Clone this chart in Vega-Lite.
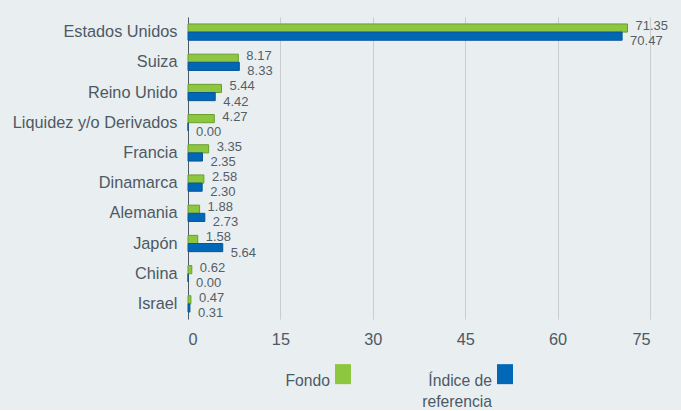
{
  "$schema": "https://vega.github.io/schema/vega-lite/v6.json",
  "width": 462,
  "height": 302,
  "padding": {"left": 12, "top": 17, "right": 20, "bottom": 0},
  "background": "#e9eef1",
  "config": {"view": {"stroke": null}, "font": "Liberation Sans", "style": {"guide-label": {"lineHeight": 21}}},
  "data": {
    "values": [
      {"pais": "Estados Unidos", "serie": "Fondo", "valor": 71.35},
      {"pais": "Estados Unidos", "serie": "Índice de referencia", "valor": 70.47},
      {"pais": "Suiza", "serie": "Fondo", "valor": 8.17},
      {"pais": "Suiza", "serie": "Índice de referencia", "valor": 8.33},
      {"pais": "Reino Unido", "serie": "Fondo", "valor": 5.44},
      {"pais": "Reino Unido", "serie": "Índice de referencia", "valor": 4.42},
      {"pais": "Liquidez y/o Derivados", "serie": "Fondo", "valor": 4.27},
      {"pais": "Liquidez y/o Derivados", "serie": "Índice de referencia", "valor": 0.0},
      {"pais": "Francia", "serie": "Fondo", "valor": 3.35},
      {"pais": "Francia", "serie": "Índice de referencia", "valor": 2.35},
      {"pais": "Dinamarca", "serie": "Fondo", "valor": 2.58},
      {"pais": "Dinamarca", "serie": "Índice de referencia", "valor": 2.3},
      {"pais": "Alemania", "serie": "Fondo", "valor": 1.88},
      {"pais": "Alemania", "serie": "Índice de referencia", "valor": 2.73},
      {"pais": "Japón", "serie": "Fondo", "valor": 1.58},
      {"pais": "Japón", "serie": "Índice de referencia", "valor": 5.64},
      {"pais": "China", "serie": "Fondo", "valor": 0.62},
      {"pais": "China", "serie": "Índice de referencia", "valor": 0.0},
      {"pais": "Israel", "serie": "Fondo", "valor": 0.47},
      {"pais": "Israel", "serie": "Índice de referencia", "valor": 0.31}
    ]
  },
  "encoding": {
    "y": {
      "field": "pais",
      "type": "nominal",
      "sort": ["Estados Unidos", "Suiza", "Reino Unido", "Liquidez y/o Derivados", "Francia", "Dinamarca", "Alemania", "Japón", "China", "Israel"],
      "scale": {"paddingInner": 0.46, "paddingOuter": 0.23},
      "axis": {"title": null, "labelFontSize": 16.3, "labelColor": "#4d5964", "ticks": false, "domainColor": "#4d5964", "labelPadding": 11}
    },
    "x": {
      "field": "valor",
      "type": "quantitative",
      "scale": {"domain": [0, 75]},
      "axis": {"values": [0, 15, 30, 45, 60, 75], "title": null, "grid": true, "gridColor": "#c9cdd0", "domain": false, "ticks": false, "labelFontSize": 16.3, "labelColor": "#4d5964", "labelPadding": 12}
    },
    "yOffset": {"field": "serie", "type": "nominal", "sort": ["Fondo", "Índice de referencia"]}
  },
  "layer": [
    {
      "mark": {"type": "bar", "strokeWidth": 1},
      "encoding": {
        "color": {
          "field": "serie",
          "type": "nominal",
          "scale": {"domain": ["Fondo", "Índice de referencia"], "range": ["#8dc63f", "#0068b6"]},
          "legend": {
            "title": null,
            "orient": "none",
            "legendX": 145,
            "legendY": 347,
            "direction": "horizontal",
            "symbolType": "M-0.8,-1H0.8V1H-0.8Z",
            "symbolSize": 400,
            "symbolStrokeWidth": 0,
            "labelAlign": "right",
            "labelBaseline": "top",
            "labelOffset": -23,
            "labelFontSize": 15.7,
            "labelColor": "#4d5964",
            "columnPadding": 71,
            "labelExpr": "datum.label == 'Índice de referencia' ? ['Índice de', 'referencia'] : ['Fondo', '']"
          }
        },
        "stroke": {
          "field": "serie",
          "type": "nominal",
          "scale": {"domain": ["Fondo", "Índice de referencia"], "range": ["#6a9e2e", "#0a5596"]},
          "legend": null
        }
      }
    },
    {
      "transform": [{"filter": "datum.serie == 'Fondo'"}],
      "mark": {"type": "text", "align": "left", "dx": 8, "dy": -2, "fontSize": 13, "color": "#555e66"},
      "encoding": {"text": {"field": "valor", "type": "quantitative", "format": ".2f"}}
    },
    {
      "transform": [{"filter": "datum.serie != 'Fondo'"}],
      "mark": {"type": "text", "align": "left", "dx": 8, "dy": 5, "fontSize": 13, "color": "#555e66"},
      "encoding": {"text": {"field": "valor", "type": "quantitative", "format": ".2f"}}
    }
  ]
}
